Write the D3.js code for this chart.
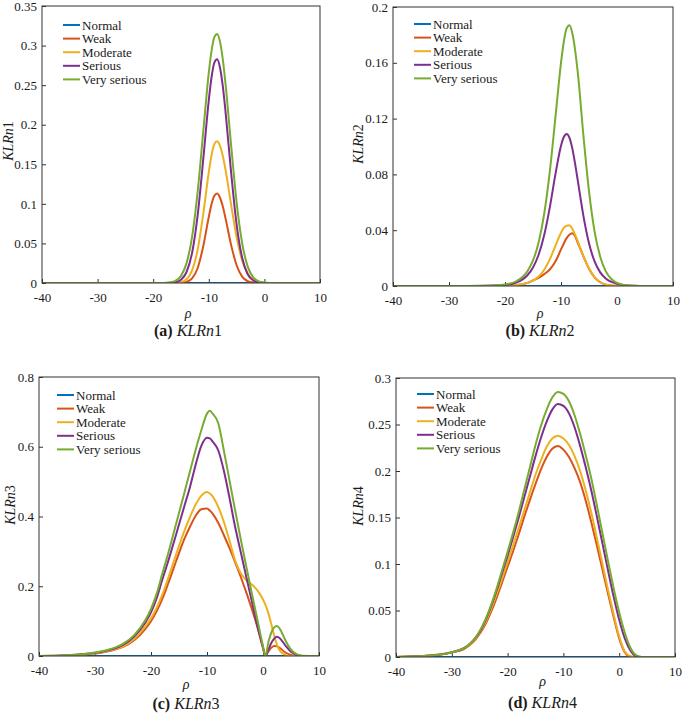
<!DOCTYPE html>
<html>
<head>
<meta charset="utf-8">
<script src="https://cdn.jsdelivr.net/npm/d3@7"></script>
<style>
  body { margin: 0; background: #fff; }
  svg { display: block; }
  text { font-family: "Liberation Serif", "Times New Roman", serif; fill: #1a1a1a; }
</style>
</head>
<body>
<div id="chart"></div>
<script>
// ── Series ──
const seriesNames = ["Normal", "Weak", "Moderate", "Serious", "Very serious"];
const seriesColors = ["#0072BD", "#D95319", "#EDB120", "#7E2F8E", "#77AC30"];

// Normal stays at zero everywhere
const normalRho = [-40, 10];
const normalVal = [0, 0];

const xTicks = [-40, -30, -20, -10, 0, 10];

// (a) KLRn1
const rhoA = [-40, -20, -18, -17, -16, -15, -14, -13, -12, -11, -10, -9.5, -9, -8.5, -8, -7.5, -7, -6, -5, -4, -3, -2, -1, 0, 1, 2, 4, 10];
const weakA = [0, 0, 0, 0, 0, 0.0002, 0.0013, 0.0057, 0.019, 0.0465, 0.0835, 0.0997, 0.1102, 0.113, 0.108, 0.0972, 0.082, 0.0485, 0.0224, 0.008, 0.0022, 0.0005, 0.0001, 0, 0, 0, 0, 0];
const moderateA = [0, 0, 0, 0, 0.0002, 0.0011, 0.0047, 0.0159, 0.0422, 0.0871, 0.1401, 0.1618, 0.1754, 0.179, 0.1735, 0.1611, 0.1434, 0.0995, 0.0581, 0.0285, 0.0118, 0.0041, 0.0012, 0.0003, 0, 0, 0, 0];
const seriousA = [0, 0, 0, 0.0002, 0.001, 0.0041, 0.0139, 0.0383, 0.0858, 0.1561, 0.2311, 0.2603, 0.2784, 0.2827, 0.2727, 0.2497, 0.2172, 0.1408, 0.0742, 0.0318, 0.0111, 0.0031, 0.0007, 0.0001, 0, 0, 0, 0];
const verySeriousA = [0, 0, 0.0001, 0.0007, 0.0027, 0.009, 0.0251, 0.0587, 0.1155, 0.1911, 0.2657, 0.2936, 0.3106, 0.3147, 0.3053, 0.2836, 0.2523, 0.1751, 0.1023, 0.0502, 0.0207, 0.0072, 0.0021, 0.0005, 0.0001, 0, 0, 0];
const yTicksA = [0, 0.05, 0.1, 0.15, 0.2, 0.25, 0.3, 0.35];

// (b) KLRn2
const rhoB = [-40, -30, -25, -22, -20, -18, -16, -15, -14, -13, -12, -11, -10, -9.5, -9, -8.5, -8, -7.5, -7, -6, -5, -4, -3, -2, -1, 0, 1, 2, 3, 5, 10];
const weakB = [0, 0, 0, 0, 0.0002, 0.0006, 0.0022, 0.004, 0.0058, 0.0085, 0.0118, 0.0175, 0.0262, 0.0305, 0.0343, 0.0368, 0.0378, 0.0358, 0.031, 0.0213, 0.0124, 0.0062, 0.0027, 0.001, 0.0004, 0.0001, 0, 0, 0, 0, 0];
const moderateB = [0, 0, 0, 0.0001, 0.0002, 0.0007, 0.0022, 0.0039, 0.0068, 0.0117, 0.0191, 0.0287, 0.0382, 0.0416, 0.0432, 0.0436, 0.041, 0.037, 0.032, 0.0215, 0.0125, 0.0063, 0.0027, 0.001, 0.0004, 0.0001, 0, 0, 0, 0, 0];
const seriousB = [0, 0, 0, 0.0003, 0.0008, 0.0025, 0.0077, 0.0133, 0.0224, 0.0365, 0.0564, 0.08, 0.1006, 0.1068, 0.109, 0.1064, 0.099, 0.0881, 0.0755, 0.0503, 0.0306, 0.0176, 0.0098, 0.0054, 0.0029, 0.0016, 0.0008, 0.0004, 0.0002, 0, 0];
const verySeriousB = [0, 0, 0.0001, 0.0004, 0.0011, 0.0034, 0.0106, 0.0183, 0.0312, 0.0518, 0.082, 0.1207, 0.16, 0.1751, 0.1846, 0.187, 0.1816, 0.1697, 0.1529, 0.108, 0.068, 0.039, 0.021, 0.0105, 0.005, 0.0022, 0.001, 0.0004, 0.0002, 0, 0];
const yTicksB = [0, 0.04, 0.08, 0.12, 0.16, 0.2];

// (c) KLRn3
const rhoC = [-40, -35, -30, -27, -25, -23, -21, -20, -19, -18, -17, -16, -15, -14, -13, -12, -11, -10, -9.5, -9, -8, -7, -6, -5, -4, -3, -2, -1, 0, 0.4, 1, 1.5, 2, 2.5, 3, 4, 5, 6, 7, 10];
const weakC = [0, 0.001, 0.007, 0.016, 0.026, 0.045, 0.078, 0.1, 0.128, 0.163, 0.205, 0.25, 0.295, 0.337, 0.372, 0.403, 0.421, 0.423, 0.417, 0.408, 0.382, 0.347, 0.31, 0.27, 0.228, 0.183, 0.135, 0.083, 0.022, 0, 0.014, 0.024, 0.029, 0.028, 0.023, 0.01, 0.003, 0, 0, 0];
const moderateC = [0, 0.001, 0.008, 0.017, 0.028, 0.049, 0.085, 0.108, 0.138, 0.175, 0.22, 0.268, 0.315, 0.36, 0.4, 0.435, 0.46, 0.47, 0.466, 0.458, 0.428, 0.385, 0.332, 0.275, 0.238, 0.218, 0.205, 0.188, 0.162, 0.148, 0.12, 0.09, 0.058, 0.032, 0.015, 0.003, 0, 0, 0, 0];
const seriousC = [0, 0.002, 0.009, 0.019, 0.032, 0.056, 0.096, 0.125, 0.165, 0.218, 0.268, 0.322, 0.377, 0.432, 0.487, 0.55, 0.603, 0.626, 0.624, 0.615, 0.59, 0.532, 0.455, 0.372, 0.3, 0.228, 0.157, 0.085, 0.025, 0, 0.02, 0.038, 0.05, 0.055, 0.051, 0.03, 0.012, 0.003, 0, 0];
const verySeriousC = [0, 0.002, 0.01, 0.021, 0.035, 0.06, 0.103, 0.135, 0.178, 0.235, 0.29, 0.35, 0.41, 0.47, 0.532, 0.593, 0.648, 0.695, 0.703, 0.695, 0.668, 0.59, 0.505, 0.42, 0.337, 0.258, 0.18, 0.104, 0.028, 0, 0.042, 0.068, 0.082, 0.086, 0.078, 0.045, 0.018, 0.005, 0.001, 0];
const yTicksC = [0, 0.2, 0.4, 0.6, 0.8];

// (d) KLRn4
const rhoD = [-40, -35, -30, -28, -27, -26, -25, -24, -23, -22, -21, -20, -19, -18, -17, -16, -15, -14, -13, -12, -11, -10, -9, -8, -7, -6, -5, -4, -3, -2, -1, 0, 1, 2, 3, 4, 10];
const weakD = [0, 0.001, 0.005, 0.008, 0.012, 0.017, 0.025, 0.035, 0.048, 0.063, 0.08, 0.097, 0.114, 0.132, 0.151, 0.169, 0.186, 0.202, 0.215, 0.224, 0.227, 0.223, 0.215, 0.203, 0.188, 0.168, 0.145, 0.12, 0.094, 0.068, 0.043, 0.02, 0.005, 0, 0, 0, 0];
const moderateD = [0, 0.001, 0.005, 0.009, 0.012, 0.018, 0.026, 0.037, 0.051, 0.067, 0.084, 0.102, 0.12, 0.139, 0.158, 0.177, 0.196, 0.212, 0.226, 0.235, 0.238, 0.235, 0.228, 0.216, 0.2, 0.179, 0.155, 0.128, 0.1, 0.072, 0.046, 0.022, 0.006, 0.001, 0, 0, 0];
const seriousD = [0, 0.001, 0.005, 0.009, 0.013, 0.019, 0.027, 0.039, 0.054, 0.071, 0.09, 0.109, 0.129, 0.15, 0.172, 0.194, 0.216, 0.236, 0.253, 0.266, 0.272, 0.27, 0.262, 0.247, 0.227, 0.204, 0.179, 0.151, 0.122, 0.093, 0.065, 0.04, 0.02, 0.007, 0.001, 0, 0];
const verySeriousD = [0, 0.001, 0.005, 0.009, 0.013, 0.019, 0.028, 0.04, 0.055, 0.073, 0.093, 0.113, 0.134, 0.156, 0.18, 0.204, 0.228, 0.249, 0.266, 0.279, 0.285, 0.283, 0.275, 0.26, 0.24, 0.217, 0.192, 0.163, 0.133, 0.103, 0.074, 0.048, 0.026, 0.01, 0.002, 0, 0];
const yTicksD = [0, 0.05, 0.1, 0.15, 0.2, 0.25, 0.3];

// ── Layout of the four panels ──
const panels = [
  { tag: "(a)", num: "1", rho: rhoA, vals: [weakA, moderateA, seriousA, verySeriousA], yMax: 0.35, yTicks: yTicksA,
    left: 42, right: 320, top: 6, bottom: 283, yLabX: 8, yLabY: 141, legX: 63, legY: 25, rhoY: 313, capY: 330 },
  { tag: "(b)", num: "2", rho: rhoB, vals: [weakB, moderateB, seriousB, verySeriousB], yMax: 0.2, yTicks: yTicksB,
    left: 393, right: 673, top: 7, bottom: 286, yLabX: 358, yLabY: 144, legX: 414, legY: 24, rhoY: 313, capY: 330 },
  { tag: "(c)", num: "3", rho: rhoC, vals: [weakC, moderateC, seriousC, verySeriousC], yMax: 0.8, yTicks: yTicksC,
    left: 39, right: 319, top: 377, bottom: 656, yLabX: 10, yLabY: 505, legX: 57, legY: 395, rhoY: 684, capY: 703 },
  { tag: "(d)", num: "4", rho: rhoD, vals: [weakD, moderateD, seriousD, verySeriousD], yMax: 0.3, yTicks: yTicksD,
    left: 396, right: 675, top: 378, bottom: 657, yLabX: 358, yLabY: 506, legX: 417, legY: 394, rhoY: 681, capY: 702 }
];

const serif = "Liberation Serif, Times New Roman, serif";

const svg = d3.select("#chart").append("svg")
  .attr("width", 685)
  .attr("height", 715)
  .attr("font-family", serif);

svg.append("rect").attr("width", 685).attr("height", 715).attr("fill", "#fff");

panels.forEach(function (p, pi) {
  const x = d3.scaleLinear().domain([-40, 10]).range([p.left, p.right]);
  const y = d3.scaleLinear().domain([0, p.yMax]).range([p.bottom, p.top]);
  const midX = (p.left + p.right) / 2;

  const clipId = "clip" + pi;
  svg.append("clipPath").attr("id", clipId)
    .append("rect")
    .attr("x", p.left).attr("y", p.top - 2)
    .attr("width", p.right - p.left).attr("height", p.bottom - p.top + 2);

  // ── Axes (ticks point inward, MATLAB style) ──
  const xAxis = svg.append("g")
    .attr("transform", `translate(0,${p.bottom})`)
    .call(d3.axisBottom(x).tickValues(xTicks).tickSizeInner(-4).tickSizeOuter(0).tickPadding(10)
      .tickFormat(d => String(d)));
  const yAxis = svg.append("g")
    .attr("transform", `translate(${p.left},0)`)
    .call(d3.axisLeft(y).tickValues(p.yTicks).tickSizeInner(-4).tickSizeOuter(0).tickPadding(5)
      .tickFormat(d => String(d)));
  [xAxis, yAxis].forEach(a => {
    a.attr("font-family", serif).attr("font-size", 13);
    a.select(".domain").remove();
    a.selectAll(".tick line").attr("stroke", "#333");
    a.selectAll(".tick text").attr("fill", "#1a1a1a");
  });

  // ── Lines ──
  const line = d3.line()
    .x(d => x(d[0]))
    .y(d => y(d[1]))
    .curve(d3.curveMonotoneX);

  const linesG = svg.append("g").attr("clip-path", `url(#${clipId})`);
  linesG.append("path")
    .datum(normalRho.map((r, i) => [r, normalVal[i]]))
    .attr("d", line)
    .attr("fill", "none")
    .attr("stroke", seriesColors[0])
    .attr("stroke-width", 2);
  p.vals.forEach(function (vals, si) {
    linesG.append("path")
      .datum(p.rho.map((r, i) => [r, vals[i]]))
      .attr("d", line)
      .attr("fill", "none")
      .attr("stroke", seriesColors[si + 1])
      .attr("stroke-width", 2)
      .attr("stroke-linejoin", "round");
  });

  // Box
  svg.append("rect")
    .attr("x", p.left).attr("y", p.top)
    .attr("width", p.right - p.left).attr("height", p.bottom - p.top)
    .attr("fill", "none").attr("stroke", "#333").attr("stroke-width", 1);

  // ── Legend ──
  const leg = svg.append("g");
  seriesNames.forEach(function (name, i) {
    const ly = p.legY + i * 13.6;
    leg.append("line")
      .attr("x1", p.legX).attr("x2", p.legX + 17)
      .attr("y1", ly).attr("y2", ly)
      .attr("stroke", seriesColors[i]).attr("stroke-width", 2);
    leg.append("text")
      .attr("x", p.legX + 19).attr("y", ly)
      .attr("dy", "0.35em")
      .attr("font-size", "13px")
      .text(name);
  });

  // ── Axis labels ──
  const yl = svg.append("text")
    .attr("transform", `translate(${p.yLabX},${p.yLabY}) rotate(-90)`)
    .attr("text-anchor", "middle")
    .attr("dy", "0.35em")
    .attr("font-size", "14px");
  yl.append("tspan").attr("font-style", "italic").text("KLRn");
  yl.append("tspan").text(p.num);

  svg.append("text")
    .attr("x", midX + 7).attr("y", p.rhoY)
    .attr("dy", "0.35em")
    .attr("text-anchor", "middle")
    .attr("font-size", "14px")
    .attr("font-style", "italic")
    .text("ρ");

  // Caption under each panel
  const cap = svg.append("text")
    .attr("x", midX + 7).attr("y", p.capY)
    .attr("dy", "0.35em")
    .attr("text-anchor", "middle")
    .attr("font-size", "16px");
  cap.append("tspan").attr("font-weight", "bold").text(p.tag + " ");
  cap.append("tspan").attr("font-style", "italic").text("KLRn");
  cap.append("tspan").text(p.num);
});
</script>
</body>
</html>
